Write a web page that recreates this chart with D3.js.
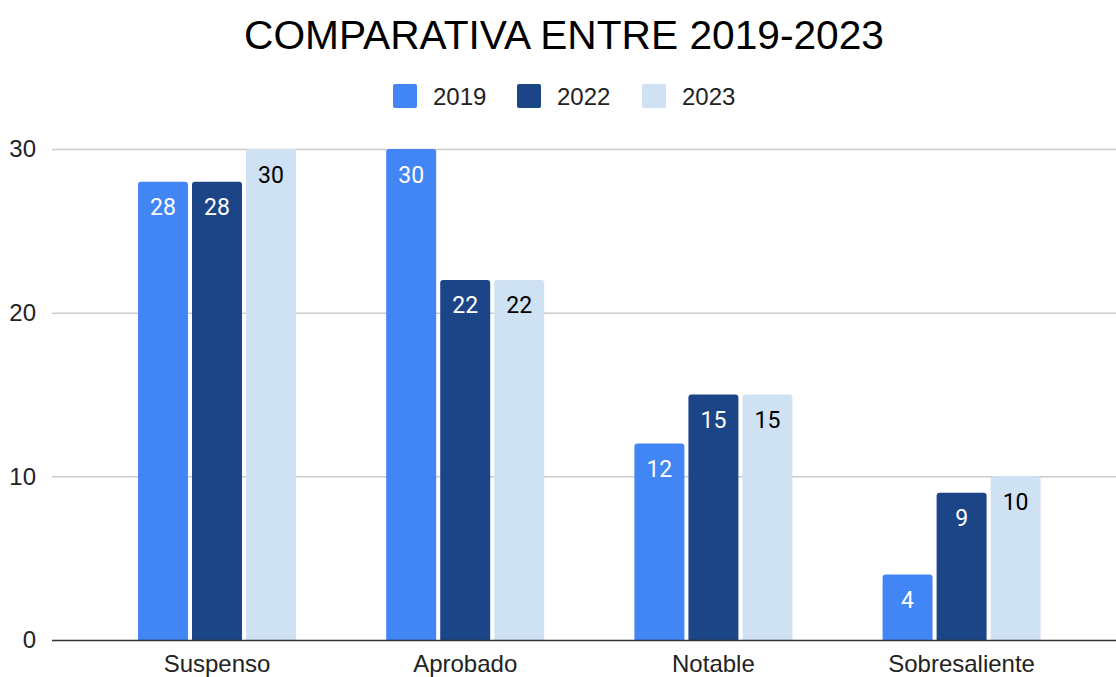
<!DOCTYPE html>
<html><head><meta charset="utf-8">
<script src="https://cdn.jsdelivr.net/npm/d3@7"></script>
<style>body{margin:0;background:#fff}svg{display:block}</style>
</head><body>
<svg id="c" width="1116" height="677"></svg>
<script>
const categories = ["Suspenso", "Aprobado", "Notable", "Sobresaliente"];
const seriesNames = ["2019", "2022", "2023"];
const values2019 = [28, 30, 12, 4];
const values2022 = [28, 22, 15, 9];
const values2023 = [30, 22, 15, 10];
const yTicks = [0, 10, 20, 30];
const title = "COMPARATIVA ENTRE 2019-2023";

const seriesValues = [values2019, values2022, values2023];
const colors = ["#4285f4", "#1c4587", "#cfe2f3"];
const labelColors = ["#ffffff", "#ffffff", "#000000"];
const axisFont = "Liberation Sans, Arial, sans-serif";

const svg = d3.select("#c");
const W = 1116, H = 677;
const x0 = d3.scaleBand().domain(categories).range([92.9, 1085.7]).paddingInner(0.3634).paddingOuter(0.1817);
const x1 = d3.scaleBand().domain(seriesNames).range([0, x0.bandwidth()]).paddingInner(0.075).paddingOuter(0);
const y = d3.scaleLinear().domain([0, 30]).range([640, 149]);

// gridlines
svg.append("g").selectAll("line").data(yTicks.filter(d => d !== 0)).join("line")
  .attr("x1", 52).attr("x2", W).attr("y1", d => y(d) + 0.5).attr("y2", d => y(d) + 0.5)
  .attr("stroke", "#cccccc").attr("stroke-width", 1.5);

// y tick labels
svg.append("g").selectAll("text").data(yTicks).join("text")
  .attr("x", 36).attr("y", d => y(d)).attr("dy", "0.35em").attr("text-anchor", "end")
  .attr("font-family", axisFont).attr("font-size", 24).attr("fill", "#222")
  .text(d => d);

// bars
const rr = 3;
function barPath(x, yt, w, yb) {
  const r = Math.min(rr, (yb - yt));
  return `M${x},${yb}V${yt + r}Q${x},${yt} ${x + r},${yt}H${x + w - r}Q${x + w},${yt} ${x + w},${yt + r}V${yb}Z`;
}
const groups = svg.append("g").selectAll("g").data(categories).join("g")
  .attr("transform", d => `translate(${x0(d)},0)`);
seriesNames.forEach((s, si) => {
  groups.append("path")
    .attr("d", (c, ci) => barPath(x1(s), y(seriesValues[si][ci]), x1.bandwidth(), y(0)))
    .attr("fill", colors[si]);
  groups.append("text")
    .attr("x", x1(s) + x1.bandwidth() / 2)
    .attr("y", (c, ci) => y(seriesValues[si][ci]) + 33.5)
    .attr("text-anchor", "middle")
    .attr("font-family", "Roboto").attr("font-size", 23)
    .attr("fill", labelColors[si])
    .text((c, ci) => seriesValues[si][ci]);
});

// baseline
svg.append("line").attr("x1", 52).attr("x2", W).attr("y1", y(0) + 0.5).attr("y2", y(0) + 0.5)
  .attr("stroke", "#333").attr("stroke-width", 1.5);

// category labels
svg.append("g").selectAll("text").data(categories).join("text")
  .attr("x", d => x0(d) + x0.bandwidth() / 2).attr("y", 672)
  .attr("text-anchor", "middle").attr("font-family", axisFont).attr("font-size", 24).attr("fill", "#222")
  .text(d => d);

// title
svg.append("text").attr("x", 564).attr("y", 49).attr("text-anchor", "middle")
  .attr("font-family", axisFont).attr("font-size", 40.7).attr("fill", "#000")
  .text(title);

// legend
const legX = [393, 517, 642];
const leg = svg.append("g").selectAll("g").data(seriesNames).join("g")
  .attr("transform", (d, i) => `translate(${legX[i]},84)`);
leg.append("rect").attr("width", 24).attr("height", 24).attr("rx", 2).attr("fill", (d, i) => colors[i]);
leg.append("text").attr("x", 40).attr("y", 21)
  .attr("font-family", axisFont).attr("font-size", 24).attr("fill", "#222").text(d => d);
</script>
</body></html>
